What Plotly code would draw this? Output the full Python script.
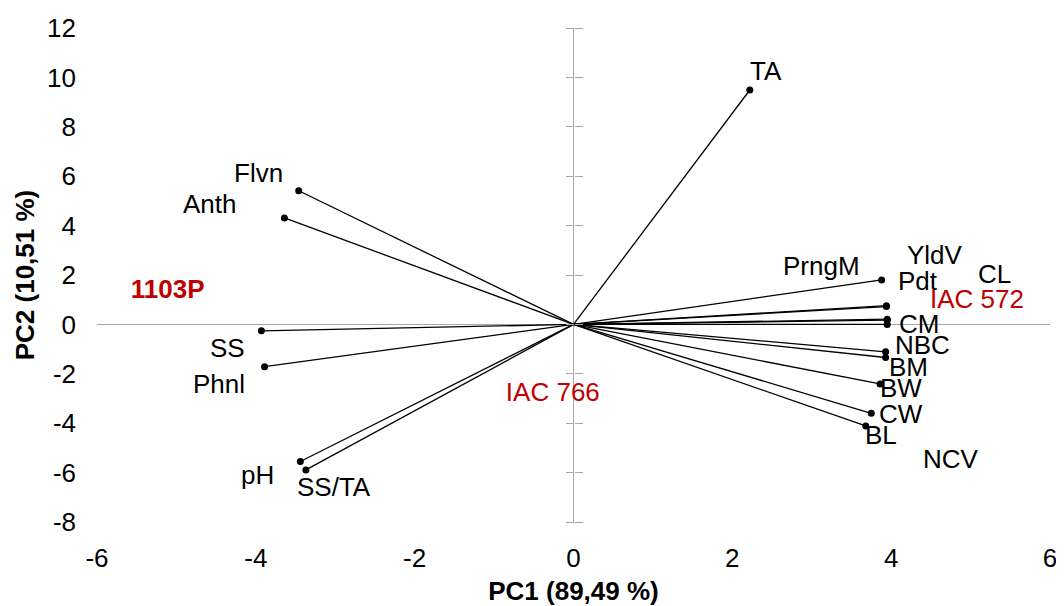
import plotly.graph_objects as go

# ---- data -------------------------------------------------------------
variables = ["TA", "Flvn", "Anth", "SS", "Phnl", "pH", "SS/TA",
             "PrngM", "YldV", "Pdt", "CL", "NCV", "CM", "NBC", "BM", "BW", "CW", "BL"]
pc1_load = [2.22, -3.46, -3.64, -3.93, -3.89, -3.44, -3.37,
            3.88, 3.94, 3.94, 3.95, 3.95, 3.95, 3.93, 3.93, 3.86, 3.75, 3.68]
pc2_load = [9.49, 5.41, 4.31, -0.26, -1.71, -5.55, -5.89,
            1.80, 0.76, 0.72, 0.21, 0.17, 0.00, -1.11, -1.34, -2.41, -3.60, -4.11]

genotypes = ["1103P", "IAC 766", "IAC 572"]
pc1_score = [-5.11, -0.26, 5.08]
pc2_score = [1.35, -2.84, 0.91]

x_ticks = [-6, -4, -2, 0, 2, 4, 6]
x_tick_labels = ["-6", "-4", "-2", "0", "2", "4", "6"]
y_ticks = [-8, -6, -4, -2, 0, 2, 4, 6, 8, 10, 12]
y_tick_labels = ["-8", "-6", "-4", "-2", "0", "2", "4", "6", "8", "10", "12"]

# ---- label placement (pixel offsets from each vector tip) -----------------
label_offsets = {
    "TA": (16, -19), "Flvn": (-40, -18), "Anth": (-74, -14), "SS": (-34, 17),
    "Phnl": (-46, 17), "pH": (-43, 14), "SS/TA": (28, 17), "PrngM": (-60, -14),
    "YldV": (49, -51), "Pdt": (32, -26), "CL": (107, -45), "NCV": (64, 139),
    "CM": (32, 0), "NBC": (37, -7), "BM": (23, 9), "BW": (21, 4), "CW": (30, 1),
    "BL": (15, 9),
}

FONT = "Liberation Sans, Arial, sans-serif"
FS = 26
GRAY = "#A6A6A6"
RED = "#C00000"

fig = go.Figure()

# vectors from origin
lx, ly = [], []
for a, b in zip(pc1_load, pc2_load):
    lx += [0, a, None]
    ly += [0, b, None]
fig.add_trace(go.Scatter(x=lx, y=ly, mode="lines",
                         line=dict(color="black", width=1.3),
                         hoverinfo="skip", showlegend=False))
fig.add_trace(go.Scatter(x=pc1_load, y=pc2_load, mode="markers", text=variables,
                         marker=dict(color="black", size=7),
                         showlegend=False))

# genotype labels
for name, gx, gy in zip(genotypes, pc1_score, pc2_score):
    fig.add_trace(go.Scatter(
        x=[gx], y=[gy], mode="text", text=[f"<b>{name}</b>" if name == "1103P" else name],
        textposition="middle center",
        textfont=dict(family=FONT, size=FS, color=RED),
        showlegend=False, hoverinfo="skip"))

# invisible traces to host the cross tick axes at x = 0
fig.add_trace(go.Scatter(x=[0], y=[0], yaxis="y2", mode="markers",
                         marker=dict(opacity=0), hoverinfo="skip", showlegend=False))
fig.add_trace(go.Scatter(x=[0], y=[0], yaxis="y3", mode="markers",
                         marker=dict(opacity=0), hoverinfo="skip", showlegend=False))

# variable labels
for name, a, b in zip(variables, pc1_load, pc2_load):
    dx, dy = label_offsets[name]
    fig.add_annotation(x=a, y=b, xref="x", yref="y", text=name, showarrow=False,
                       xanchor="center", yanchor="middle",
                       xshift=dx, yshift=-dy,
                       font=dict(family=FONT, size=FS, color="black"))

yr = [-8, 12]
# the page body adds an 8 px offset, so the figure is 8 px smaller on each side
fig.update_layout(
    width=1056, height=598,
    margin=dict(l=89, r=14, t=20, b=84, autoexpand=False),
    paper_bgcolor="white", plot_bgcolor="white",
    font=dict(family=FONT, size=FS, color="black"),
    showlegend=False,
    xaxis=dict(range=[-6, 6], tickvals=x_ticks, ticktext=x_tick_labels,
               showgrid=False, showline=False, automargin=False,
               zeroline=True, zerolinecolor=GRAY, zerolinewidth=1.3,
               ticks="", ticklabelstandoff=18,
               title=dict(text="<b>PC1 (89,49 %)</b>", standoff=9,
                          font=dict(family=FONT, size=FS))),
    yaxis=dict(range=yr, tickvals=y_ticks, ticktext=y_tick_labels,
               showgrid=False, showline=False, automargin=False,
               zeroline=True, zerolinecolor=GRAY, zerolinewidth=1.3,
               ticks="", ticklabelstandoff=20,
               title=dict(text="<b>PC2 (10,51 %)</b>", standoff=4,
                          font=dict(family=FONT, size=FS))),
    yaxis2=dict(range=yr, tickvals=y_ticks, overlaying="y", anchor="free", position=0.5,
                side="left", showgrid=False, showline=False, zeroline=False,
                automargin=False,
                ticks="outside", ticklen=8, tickwidth=1.3, tickcolor=GRAY,
                showticklabels=False),
    yaxis3=dict(range=yr, tickvals=y_ticks, overlaying="y", anchor="free", position=0.5,
                side="right", showgrid=False, showline=False, zeroline=False,
                automargin=False,
                ticks="outside", ticklen=8, tickwidth=1.3, tickcolor=GRAY,
                showticklabels=False),
)

fig.write_html("out.html")
